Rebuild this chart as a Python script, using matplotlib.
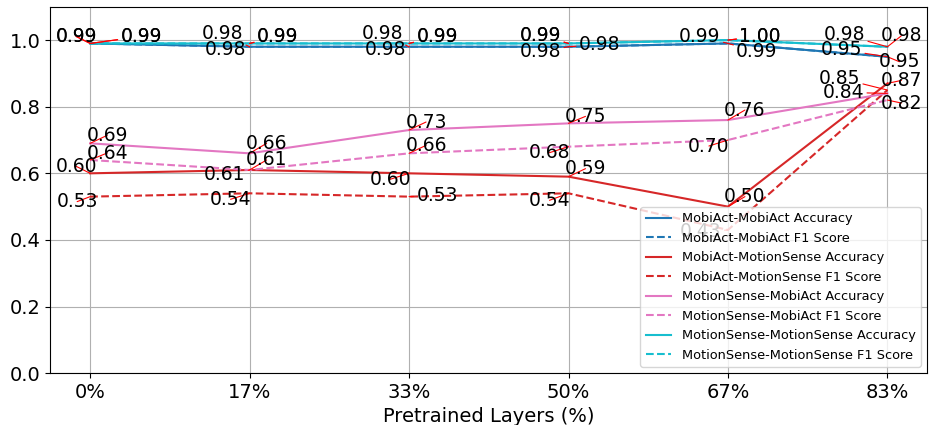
import matplotlib
matplotlib.use("Agg")
import matplotlib.pyplot as plt

layers = ["0%", "17%", "33%", "50%", "67%", "83%"]

mobiact_mobiact_acc = [0.99, 0.98, 0.98, 0.98, 0.99, 0.95]
mobiact_mobiact_f1 = [0.99, 0.98, 0.98, 0.98, 0.99, 0.95]
mobiact_motionsense_acc = [0.60, 0.61, 0.60, 0.59, 0.50, 0.87]
mobiact_motionsense_f1 = [0.53, 0.54, 0.53, 0.54, 0.43, 0.85]
motionsense_mobiact_acc = [0.69, 0.66, 0.73, 0.75, 0.76, 0.84]
motionsense_mobiact_f1 = [0.64, 0.61, 0.66, 0.68, 0.70, 0.82]
motionsense_motionsense_acc = [0.99, 0.99, 0.99, 0.99, 1.00, 0.98]
motionsense_motionsense_f1 = [0.99, 0.99, 0.99, 0.99, 1.00, 0.98]

series = [
    ("MobiAct-MobiAct Accuracy", mobiact_mobiact_acc, "tab:blue", "-"),
    ("MobiAct-MobiAct F1 Score", mobiact_mobiact_f1, "tab:blue", "--"),
    ("MobiAct-MotionSense Accuracy", mobiact_motionsense_acc, "tab:red", "-"),
    ("MobiAct-MotionSense F1 Score", mobiact_motionsense_f1, "tab:red", "--"),
    ("MotionSense-MobiAct Accuracy", motionsense_mobiact_acc, "tab:pink", "-"),
    ("MotionSense-MobiAct F1 Score", motionsense_mobiact_f1, "tab:pink", "--"),
    ("MotionSense-MotionSense Accuracy", motionsense_motionsense_acc, "tab:cyan", "-"),
    ("MotionSense-MotionSense F1 Score", motionsense_motionsense_f1, "tab:cyan", "--"),
]

# label offsets in pixels (dx right, dy down), hand-placed to avoid overlaps
label_offsets = [
    [(-14, -7), (-27, -13), (-27, -13), (31, -2), (-28, -7), (-46, -7)],
    [(-14, -7), (-24, 3), (-24, 3), (-28, 5), (29, 8), (12, 5)],
    [(-14, -7), (-25, 5), (-19, 6), (17, -8), (17, -10), (14, -3)],
    [(-13, 5), (-19, 6), (28, -1), (-19, 7), (-27, 2), (-48, -12)],
    [(17, -8), (17, -10), (17, -8), (17, -7), (17, -10), (-44, -1)],
    [(17, -7), (17, -10), (17, -8), (-19, 6), (-19, 6), (14, 3)],
    [(51, -7), (28, -7), (28, -7), (-28, -8), (32, -4), (-43, -12)],
    [(51, -7), (28, -7), (28, -7), (-28, -8), (32, -4), (14, -11)],
]

fig, ax = plt.subplots(figsize=(9.31, 4.25), dpi=100)
fig.subplots_adjust(left=0.054, right=0.996, top=0.984, bottom=0.122)

x = list(range(len(layers)))
for (name, values, color, style), offsets in zip(series, label_offsets):
    ax.plot(x, values, linestyle=style, color=color, linewidth=1.5, label=name)
    for xi, value, (dx, dy) in zip(x, values, offsets):
        ax.annotate(
            f"{value:.2f}",
            (xi, value),
            xytext=(dx, -dy),
            textcoords="offset pixels",
            ha="center",
            va="center",
            fontsize=13.5,
            arrowprops=dict(arrowstyle="-", color="red", lw=0.8, shrinkA=0, shrinkB=0),
        )

ax.set_ylim(0, 1.1)
ax.set_xticks(x)
ax.set_xticklabels(layers)
ax.tick_params(labelsize=14)
ax.set_xlabel("Pretrained Layers (%)", fontsize=14)
ax.grid(True)
ax.legend(loc="lower right", fontsize=9.3)

fig.savefig("out.png", dpi=100)
